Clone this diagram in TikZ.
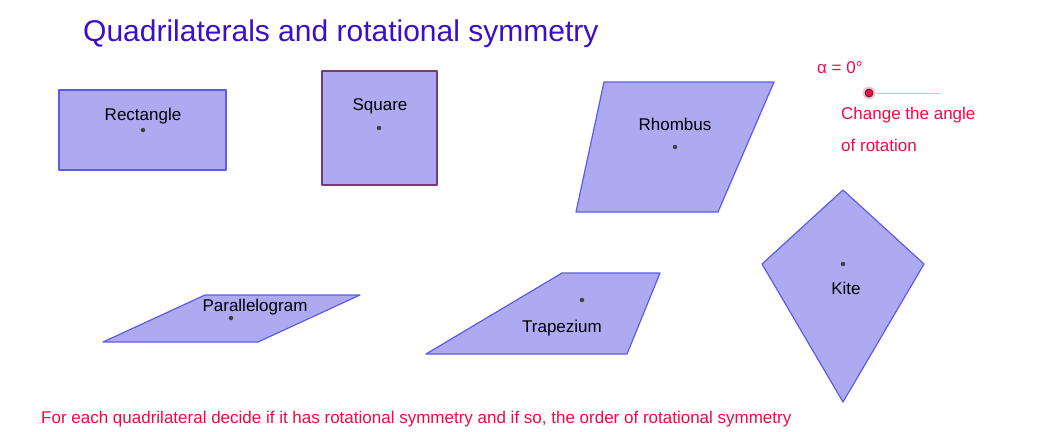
\documentclass[tikz,border=0pt]{standalone}
\usepackage{fontspec}
\setmainfont{Liberation Sans}
\definecolor{fillb}{HTML}{ADAAF2}
\definecolor{edgeb}{HTML}{5F5BEA}
\definecolor{sqedge}{HTML}{7A3B74}
\definecolor{ttl}{HTML}{3A0ECC}
\definecolor{rd}{HTML}{EE0A44}
\begin{document}
\begin{tikzpicture}[x=1pt,y=-1pt,
 shp/.style={fill=fillb,draw=edgeb,line width=1.2pt,line join=round},
 lbl/.style={font=\fontsize{17}{20}\selectfont,inner sep=0pt},
 ctr/.style={circle,fill=black!75,inner sep=0pt,minimum size=4.5pt},
 rtxt/.style={text=rd,font=\fontsize{17}{20}\selectfont,inner sep=0pt,anchor=west}]
\useasboundingbox (0,0) rectangle (1043,431);
\node[anchor=west,text=ttl,font=\fontsize{30}{34}\selectfont,inner sep=0pt] (title) at (83,34) {Quadrilaterals and rotational symmetry};
% Rectangle
\draw[shp] (59,90) rectangle (226,170);
\node[lbl] (rl) at (143,116) {Rectangle};
\node[ctr] (rc) at (143,130) {};
% Square
\draw[shp,draw=sqedge] (322,71) rectangle (437,185);
\node[lbl] (sl) at (380,106) {Square};
\node[ctr] (sc) at (379,128) {};
% Rhombus
\draw[shp] (604,82) -- (774,82) -- (718,212) -- (576,212) -- cycle;
\node[lbl] (hl) at (675,124) {Rhombus};
\node[ctr] (hc) at (675,147) {};
% Parallelogram
\draw[shp] (103,342) -- (258,342) -- (360,295) -- (205,295) -- cycle;
\node[lbl] (pl) at (255,307) {Parallelogram};
\node[ctr] (pc) at (231,318) {};
% Trapezium
\draw[shp] (426,354) -- (627,354) -- (660,273) -- (562,273) -- cycle;
\node[lbl] (tl) at (562,328) {Trapezium};
\node[ctr] (tc) at (582,300) {};
% Kite
\draw[shp] (843,190) -- (924,264) -- (843,402) -- (762,264) -- cycle;
\node[lbl] (kl) at (846,288) {Kite};
\node[ctr] (kc) at (843,264) {};
% slider
\node[rtxt] (al) at (817,68) {α = 0°};
\coordinate (se) at (940,93);
\node[circle,fill=rd!25,inner sep=0pt,minimum size=13pt] (sh) at (869,93) {};
\draw[rd!30,line width=0.8pt] (sh) -- (se);
\node[circle,fill=rd,draw=black!80,line width=0.8pt,inner sep=0pt,minimum size=8pt] (sd) at (869,93) {};
\node[rtxt] (c1) at (841,115) {Change the angle};
\node[rtxt] (c2) at (841,145) {of rotation};
\node[rtxt] (bt) at (41,419) {For each quadrilateral decide if it has rotational symmetry and if so, the order of rotational symmetry};
\end{tikzpicture}
\end{document}
